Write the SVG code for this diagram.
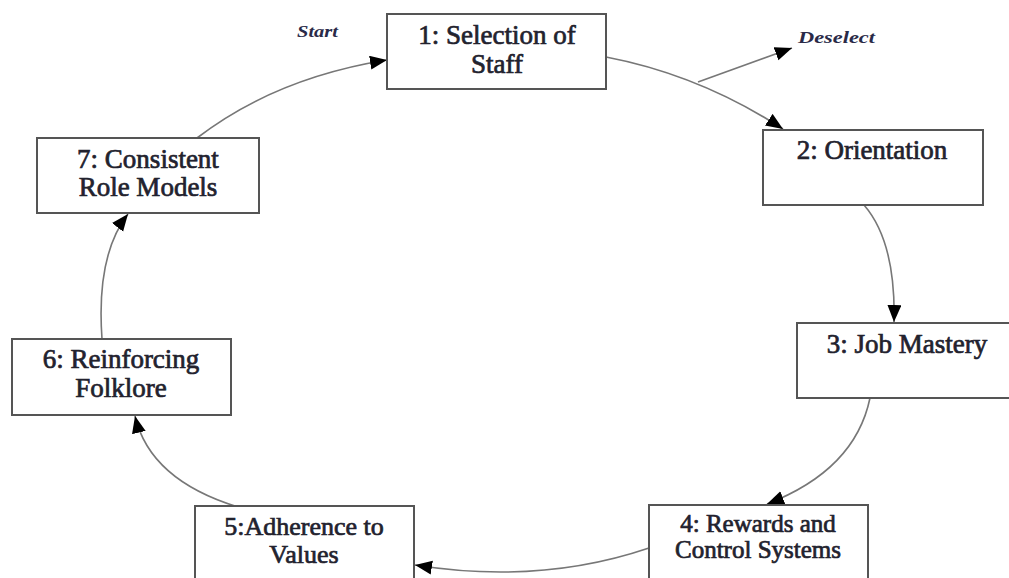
<svg xmlns="http://www.w3.org/2000/svg" width="1009" height="578" viewBox="0 0 1009 578">
<style>
.box{fill:#fff;stroke:#555;stroke-width:2}
.lbl{font-family:"Liberation Serif","Times New Roman",serif;font-size:27px;fill:#22222e;stroke:#22222e;stroke-width:0.7;text-anchor:middle}
.lbl2{font-size:25px}
.lbl3{font-size:26px}
.side{font-family:"Liberation Serif","Times New Roman",serif;font-weight:bold;font-style:italic;font-size:17px;fill:#2a2a48}
.con{fill:none;stroke:#777;stroke-width:1.6}
</style>
<defs>
<marker id="ah" markerUnits="userSpaceOnUse" markerWidth="19" markerHeight="15" refX="17" refY="7" orient="auto">
<path d="M0,0 L17,7 L0,14 z" fill="#000"/>
</marker>
</defs>
<rect width="1009" height="578" fill="#fff"/>
<g id="connectors">
<path class="con" d="M197,138 Q275,78 387,60" marker-end="url(#ah)"/>
<path class="con" d="M606,57 Q700,75 783,129" marker-end="url(#ah)"/>
<path class="con" d="M698,82 L792,48" marker-end="url(#ah)"/>
<path class="con" d="M864,205 Q896,242 894,322" marker-end="url(#ah)"/>
<path class="con" d="M870,398 Q855,470 767,504" marker-end="url(#ah)"/>
<path class="con" d="M649,548 Q540,585 415,565" marker-end="url(#ah)"/>
<path class="con" d="M238,507 Q150,480 135,416" marker-end="url(#ah)"/>
<path class="con" d="M102,339 Q96,255 128,214" marker-end="url(#ah)"/>
</g>
<g id="start-label"><text class="side" x="297" y="37" textLength="41" lengthAdjust="spacingAndGlyphs">Start</text></g>
<g id="deselect-label"><text class="side" x="798" y="43" textLength="77" lengthAdjust="spacingAndGlyphs">Deselect</text></g>
<g id="n1"><rect class="box" x="387" y="14" width="219" height="75"/>
<text class="lbl" x="497" y="44">1: Selection of</text><text class="lbl" x="497" y="73">Staff</text></g>
<g id="n2"><rect class="box" x="763" y="130" width="220" height="75"/>
<text class="lbl" x="872" y="159">2: Orientation</text></g>
<g id="n3"><rect class="box" x="797" y="323" width="220" height="75"/>
<text class="lbl" x="907" y="353">3: Job Mastery</text></g>
<g id="n4"><rect class="box" x="649" y="505" width="219" height="76"/>
<text class="lbl lbl2" x="758" y="532">4: Rewards and</text><text class="lbl lbl2" x="758" y="558">Control Systems</text></g>
<g id="n5"><rect class="box" x="195" y="506" width="219" height="76"/>
<text class="lbl lbl3" x="304" y="535">5:Adherence to</text><text class="lbl lbl3" x="304" y="563">Values</text></g>
<g id="n6"><rect class="box" x="12" y="339" width="219" height="76"/>
<text class="lbl" x="121" y="368">6: Reinforcing</text><text class="lbl" x="121" y="397">Folklore</text></g>
<g id="n7"><rect class="box" x="37" y="138" width="222" height="75"/>
<text class="lbl" x="148" y="168">7: Consistent</text><text class="lbl" x="148" y="196">Role Models</text></g>
</svg>
